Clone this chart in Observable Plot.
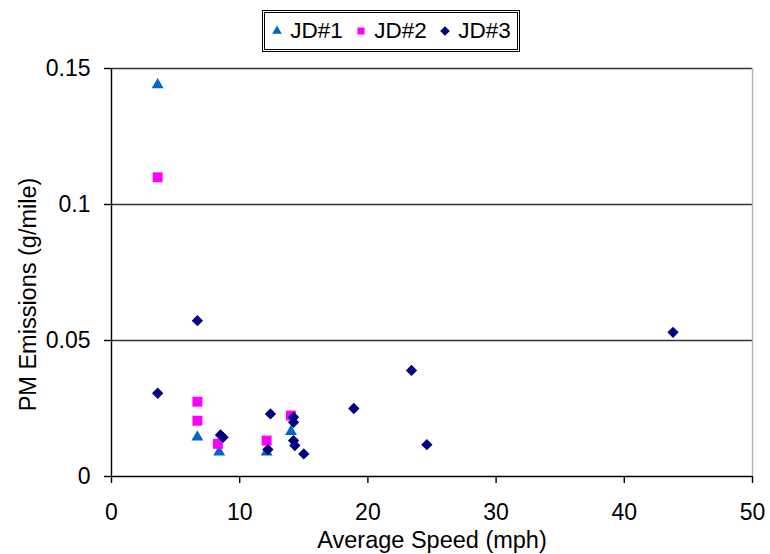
<!DOCTYPE html>
<html>
<head>
<meta charset="utf-8">
<script src="https://cdn.jsdelivr.net/npm/d3@7"></script>
<script src="https://cdn.jsdelivr.net/npm/@observablehq/plot@0.6"></script>
<style>
  html, body { margin: 0; padding: 0; background: #fff; }
  #wrap { width: 770px; height: 554px; position: relative; font-family: "Liberation Sans", Arial, sans-serif; }
  #legend-row { height: 56px; position: relative; }
  #legend { position: absolute; left: 262px; top: 10px; width: 252px; height: 36px; border: 3px double #000;
            display: flex; align-items: center; justify-content: space-around; font-size: 22.5px; color: #000; box-sizing: content-box; }
  .item { display: flex; align-items: center; gap: 7px; }
  .item svg { display: block; }
</style>
</head>
<body>
<div id="wrap">
  <div id="legend-row"><div id="legend"></div></div>
  <div id="chart"></div>
</div>
<script>
// Series names and colours
const seriesNames = ["JD#1", "JD#2", "JD#3"];
const seriesColors = ["#0066CC", "#FF00FF", "#000080"];
const seriesSymbols = ["triangle", "square", "diamond2"];

// JD#1 (triangles)
const jd1Speed = [3.6, 6.7, 8.4, 12.1, 14.0];
const jd1PM    = [0.144, 0.0145, 0.009, 0.009, 0.0165];

// JD#2 (squares)
const jd2Speed = [3.6, 6.7, 6.7, 8.3, 12.1, 14.0];
const jd2PM    = [0.110, 0.0275, 0.0205, 0.012, 0.0132, 0.0224];

// JD#3 (diamonds)
const jd3Speed = [3.6, 6.7, 8.5, 8.7, 12.4, 12.2, 14.2, 14.2, 14.2, 14.3, 15.0, 18.9, 23.4, 24.6, 43.8];
const jd3PM    = [0.0306, 0.0573, 0.0153, 0.0144, 0.023, 0.0099, 0.0218, 0.0199, 0.0132, 0.0114, 0.0083, 0.025, 0.039, 0.0117, 0.053];

// Axis ticks and titles
const xTicks = [0, 10, 20, 30, 40, 50];
const yTicks = [0, 0.05, 0.1, 0.15];
const yGrid = [0.05, 0.1, 0.15];
const xTitle = "Average Speed (mph)";
const yTitle = "PM Emissions (g/mile)";

const toRows = (xs, ys, s) => xs.map((x, i) => ({speed: x, pm: ys[i], series: s}));
const d1 = toRows(jd1Speed, jd1PM, "JD#1");
const d2 = toRows(jd2Speed, jd2PM, "JD#2");
const d3r = toRows(jd3Speed, jd3PM, "JD#3");

const font = '"Liberation Sans", Arial, sans-serif';

const chart = Plot.plot({
  width: 770,
  height: 498,
  marginLeft: 111,
  marginRight: 18,
  marginTop: 12,
  marginBottom: 78,
  style: {fontFamily: font, fontSize: "23px", color: "#000", background: "#fff", overflow: "visible"},
  x: {domain: [0, 50]},
  y: {domain: [0, 0.15]},
  marks: [
    Plot.ruleY(yGrid, {stroke: "#333", strokeWidth: 1.4}),
    Plot.ruleX([50], {stroke: "#b0b0b0", strokeWidth: 1.4}),
    Plot.ruleX([0], {stroke: "#000", strokeWidth: 1.4}),
    Plot.ruleY([0], {stroke: "#000", strokeWidth: 1.4}),
    Plot.axisX({ticks: xTicks, tickSize: 7, tickPadding: 20, tickFormat: d => String(d), label: null, stroke: "#000", strokeWidth: 1.4}),
    Plot.axisY({ticks: yTicks, tickSize: 7, tickPadding: 14, tickFormat: d => String(d), label: null, stroke: "#000", strokeWidth: 1.4}),
    Plot.dot(d1, {x: "speed", y: "pm", symbol: () => seriesSymbols[0], fill: seriesColors[0], r: 4.4}),
    Plot.dot(d2, {x: "speed", y: "pm", symbol: () => seriesSymbols[1], fill: seriesColors[1], r: 5.6}),
    Plot.dot(d3r, {x: "speed", y: "pm", symbol: () => seriesSymbols[2], fill: seriesColors[2], r: 5.1}),
    Plot.text([xTitle], {frameAnchor: "bottom", text: d => d, textAnchor: "middle", lineAnchor: "middle", dy: 64, fontSize: 23.5}),
    Plot.text([yTitle], {frameAnchor: "left", text: d => d, rotate: -90, textAnchor: "middle", lineAnchor: "middle", dx: -83, dy: 22, fontSize: 23.5})
  ]
});
document.getElementById("chart").appendChild(chart);

// Legend
const legend = document.getElementById("legend");
const symMap = {triangle: d3.symbolTriangle, square: d3.symbolSquare, diamond2: d3.symbolDiamond2};
const symSizes = {triangle: 40, square: 50, diamond2: 60};
seriesNames.forEach((name, i) => {
  const item = document.createElement("div");
  item.className = "item";
  const s = d3.create("svg").attr("width", 12).attr("height", 12).attr("viewBox", "-6 -6 12 12");
  s.append("path").attr("d", d3.symbol(symMap[seriesSymbols[i]], symSizes[seriesSymbols[i]])()).attr("fill", seriesColors[i]);
  item.appendChild(s.node());
  const t = document.createElement("span");
  t.textContent = name;
  item.appendChild(t);
  legend.appendChild(item);
});
</script>
</body>
</html>
